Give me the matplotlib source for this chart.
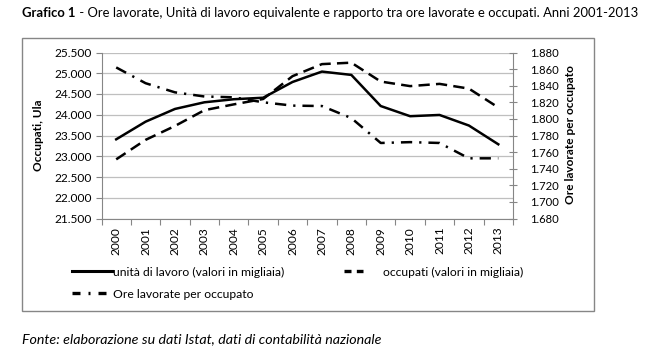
import matplotlib
matplotlib.use("Agg")
import matplotlib.pyplot as plt
from matplotlib.patches import Rectangle
from matplotlib.lines import Line2D
from matplotlib.ticker import FuncFormatter, FixedLocator

plt.rcParams['font.family'] = ['Lato', 'DejaVu Sans']

years = ['2000', '2001', '2002', '2003', '2004', '2005', '2006',
         '2007', '2008', '2009', '2010', '2011', '2012', '2013']
ula = [23408, 23833, 24140, 24300, 24374, 24410, 24790,
       25040, 24960, 24210, 23965, 23995, 23740, 23288]
occupati = [22925, 23395, 23730, 24110, 24250, 24380, 24930,
            25220, 25255, 24800, 24690, 24744, 24630, 24175]
ore = [1862, 1843, 1832, 1827, 1826, 1820, 1816,
       1815.5, 1801, 1771, 1772, 1771, 1752.5, 1752.5]

W, H = 664, 356
fig = plt.figure(figsize=(W / 100, H / 100), dpi=100)

def fx(px):
    return px / W

def fy(py):
    return 1 - py / H

GRID = '#bfbfbf'
AXC = '#868686'
FS = 8.6

# chart border
fig.patches.append(Rectangle((fx(22), fy(311)), fx(594) - fx(22), fy(37.5) - fy(311),
                             transform=fig.transFigure, fill=False,
                             edgecolor=AXC, linewidth=1.0))

left, right, top, bottom = 101.5, 513, 52.5, 218.5
ax = fig.add_axes([fx(left), fy(bottom), fx(right) - fx(left), fy(top) - fy(bottom)])
ax2 = ax.twinx()

x = list(range(len(years)))
ax.plot(x, ula, color='black', linewidth=1.8, solid_joinstyle='round')
ax.plot(x, occupati, color='black', linewidth=1.8, dashes=(4.5, 2.5))
ax2.plot(x, ore, color='black', linewidth=1.8, dashes=(4.5, 2.8, 0.9, 2.8))

ax.set_xlim(-0.5, len(years) - 0.5)
ax.set_ylim(21500, 25500)
ax.set_yticks(range(21500, 25501, 500))
ax2.set_ylim(1680, 1880)
ax2.set_yticks(range(1680, 1881, 20))

fmt = FuncFormatter(lambda v, p: f"{int(v):,}".replace(',', '.'))
ax.yaxis.set_major_formatter(fmt)
ax2.yaxis.set_major_formatter(fmt)

ax.set_xticks(x)
ax.set_xticklabels(years, rotation=90, fontsize=FS)
ax.xaxis.set_minor_locator(FixedLocator([i - 0.5 for i in range(len(years) + 1)]))
ax.tick_params(axis='x', which='major', length=0, pad=6)
ax.tick_params(axis='x', which='minor', length=4, color=AXC, width=0.8)
ax.tick_params(axis='y', length=4, color=AXC, width=0.8, labelsize=FS, pad=3, direction='out')
ax2.tick_params(axis='y', length=6, color=AXC, width=0.8, labelsize=8.1, pad=9, direction='inout')

ax.grid(axis='y', color=GRID, linewidth=0.9)
ax.set_axisbelow(True)
for a in (ax, ax2):
    a.spines['top'].set_visible(False)
    for s in ('left', 'right', 'bottom'):
        a.spines[s].set_color(AXC)
        a.spines[s].set_linewidth(0.8)
ax.spines['right'].set_visible(False)
ax2.spines['left'].set_visible(False)
ax2.spines['bottom'].set_visible(False)

fig.text(fx(38), fy(135), 'Occupati, Ula', rotation=90, ha='center', va='center',
         fontsize=FS, fontweight='bold')
fig.text(fx(571), fy(135), 'Ore lavorate per occupato', rotation=90, ha='center',
         va='center', fontsize=FS, fontweight='bold')

# legend entries
LFS = 8.7
h1 = Line2D([], [], color='black', linewidth=2.2)
h2 = Line2D([], [], color='black', linewidth=2.4, dashes=(2.4, 2.4, 0.6, 2.4))
h3 = Line2D([], [], color='black', linewidth=2.4, dashes=(2.1, 1.6))

def add_leg(h, label, px, py, hl, pad):
    lg = fig.legend([h], [label], loc='center left', bbox_to_anchor=(fx(px), fy(py)),
                    frameon=False, fontsize=LFS, handlelength=hl, handletextpad=pad,
                    borderpad=0, borderaxespad=0)
    return lg

add_leg(h1, 'unità di lavoro (valori in migliaia)', 72, 272, 3.3, 0.1)
add_leg(h2, 'Ore lavorate per occupato', 72, 294, 3.3, 0.1)
add_leg(h3, 'occupati (valori in migliaia)', 344, 272, 1.6, 1.6)

# title
r = fig.canvas.get_renderer()
TFS = 9.4
t1 = fig.text(fx(22), fy(13), 'Grafico 1', fontsize=TFS, fontweight='bold', va='center', ha='left')
bb = t1.get_window_extent(renderer=r)
fig.text(bb.x1 / W, fy(13), ' - Ore lavorate, Unità di lavoro equivalente e rapporto tra ore lavorate e occupati. Anni 2001-2013',
         fontsize=TFS, va='center', ha='left')

fig.text(fx(22), fy(339), 'Fonte: elaborazione su dati Istat, dati di contabilità nazionale',
         fontsize=10.3, style='italic', va='center', ha='left')

fig.savefig('out.png', dpi=100)
